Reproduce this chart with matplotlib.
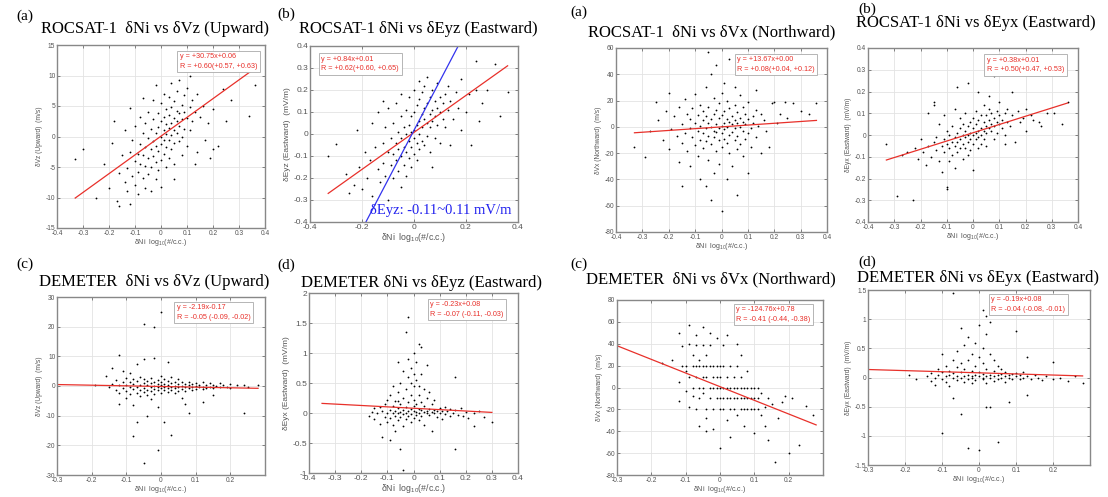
import numpy as np
import matplotlib
matplotlib.use('Agg')
import matplotlib.pyplot as plt
from matplotlib.ticker import FuncFormatter

plt.rcParams['font.family'] = ['Liberation Sans', 'DejaVu Sans']
plt.rcParams['mathtext.fontset'] = 'custom'
plt.rcParams['mathtext.rm'] = 'Liberation Sans'
plt.rcParams['mathtext.it'] = 'Liberation Sans:italic'

# ---- data ----
p1_pts = [(-0.33,-3.7),(-0.30,-2.0),(-0.25,-10.0),(-0.22,-4.5),(-0.20,-8.5),(-0.19,-1.0),(-0.18,2.5),(-0.17,-10.5),(-0.16,-11.4),(-0.16,-6.0),(-0.15,-3.0),(-0.14,-7.5),(-0.14,1.0),(-0.13,-5.2),(-0.13,-9.0),(-0.12,-2.5),(-0.12,4.6),(-0.11,-6.5),(-0.11,-0.5),(-0.10,-4.0),(-0.10,-8.0),(-0.10,1.8),(-0.09,-2.8),(-0.09,-5.8),(-0.09,-9.5),(-0.08,-1.2),(-0.08,-4.5),(-0.08,3.2),(-0.07,-6.8),(-0.07,-3.0),(-0.07,0.5),(-0.07,6.3),(-0.06,-1.8),(-0.06,-4.8),(-0.06,-8.4),(-0.06,2.2),(-0.05,-0.2),(-0.05,-3.5),(-0.05,-6.2),(-0.05,4.0),(-0.04,-2.0),(-0.04,1.2),(-0.04,-5.0),(-0.04,-9.0),(-0.03,-0.8),(-0.03,-3.2),(-0.03,2.8),(-0.03,6.0),(-0.02,-1.5),(-0.02,0.6),(-0.02,-4.2),(-0.02,-7.0),(-0.01,-2.4),(-0.01,1.5),(-0.01,3.8),(-0.01,-5.5),(0.00,0.0),(0.00,-1.2),(0.00,2.5),(0.00,-3.8),(0.00,5.5),(0.00,-8.2),(0.01,1.0),(0.01,-0.6),(0.01,3.2),(0.01,-2.8),(0.01,7.0),(0.02,0.4),(0.02,2.0),(0.02,-1.8),(0.02,4.5),(0.02,-5.0),(0.03,1.4),(0.03,3.6),(0.03,-0.5),(0.03,6.5),(0.03,-3.5),(0.04,2.2),(0.04,0.2),(0.04,4.8),(0.04,8.8),(0.04,-2.0),(0.05,1.0),(0.05,3.0),(0.05,5.8),(0.05,-1.0),(0.05,-4.5),(0.06,2.5),(0.06,4.2),(0.06,0.5),(0.06,7.5),(0.07,1.8),(0.07,3.8),(0.07,-0.8),(0.07,9.2),(0.08,2.8),(0.08,5.2),(0.08,0.0),(0.08,-3.0),(0.09,4.0),(0.09,1.2),(0.09,6.8),(0.10,3.0),(0.10,-1.5),(0.10,8.0),(0.11,4.8),(0.11,1.0),(0.12,2.5),(0.12,6.0),(0.13,-4.5),(0.13,4.0),(0.14,7.0),(0.14,-2.5),(0.15,3.2),(0.16,5.0),(0.17,-0.5),(0.18,2.2),(0.19,-3.5),(0.20,4.5),(0.20,-2.0),(0.22,-1.5),(0.24,7.8),(0.25,2.5),(0.27,6.0),(0.34,3.4),(0.36,8.4),(0.11,10.0),(-0.12,-11.0),(0.05,-7.0),(-0.02,8.5)]
p2_pts = [(-0.33,-0.10),(-0.30,-0.045),(-0.26,-0.18),(-0.25,-0.27),(-0.23,-0.23),(-0.22,0.02),(-0.21,-0.15),(-0.20,-0.25),(-0.19,-0.08),(-0.18,-0.20),(-0.17,-0.12),(-0.16,0.05),(-0.16,-0.28),(-0.15,-0.06),(-0.14,-0.16),(-0.14,0.10),(-0.13,-0.22),(-0.12,-0.04),(-0.12,-0.13),(-0.11,0.03),(-0.11,-0.19),(-0.10,-0.08),(-0.10,-0.30),(-0.10,0.12),(-0.09,-0.02),(-0.09,-0.14),(-0.08,-0.09),(-0.08,0.05),(-0.08,-0.20),(-0.07,-0.04),(-0.07,-0.12),(-0.07,0.14),(-0.06,-0.07),(-0.06,0.01),(-0.06,-0.17),(-0.05,-0.02),(-0.05,-0.10),(-0.05,0.08),(-0.05,-0.24),(-0.04,0.03),(-0.04,-0.06),(-0.04,-0.14),(-0.03,0.00),(-0.03,-0.08),(-0.03,0.11),(-0.03,-0.19),(-0.02,0.04),(-0.02,-0.03),(-0.02,-0.11),(-0.02,0.17),(-0.01,0.01),(-0.01,-0.06),(-0.01,0.08),(-0.01,-0.15),(0.00,0.02),(0.00,-0.02),(0.00,0.10),(0.00,-0.09),(0.00,0.20),(0.01,0.04),(0.01,-0.04),(0.01,0.13),(0.01,-0.12),(0.02,0.06),(0.02,0.00),(0.02,0.16),(0.02,-0.07),(0.02,0.24),(0.03,0.03),(0.03,0.09),(0.03,-0.03),(0.03,0.19),(0.04,0.07),(0.04,0.12),(0.04,-0.05),(0.04,0.22),(0.05,0.05),(0.05,0.14),(0.05,-0.01),(0.05,0.26),(0.06,0.09),(0.06,0.03),(0.06,0.17),(0.06,-0.08),(0.07,0.11),(0.07,0.06),(0.07,0.20),(0.08,0.08),(0.08,0.15),(0.08,-0.02),(0.09,0.12),(0.09,0.04),(0.09,0.23),(0.10,0.10),(0.10,0.17),(0.10,-0.04),(0.11,0.07),(0.11,0.14),(0.12,0.18),(0.12,0.03),(0.13,0.11),(0.13,0.22),(0.14,0.15),(0.14,-0.05),(0.15,0.07),(0.16,0.19),(0.17,0.12),(0.18,0.25),(0.18,0.02),(0.20,0.10),(0.21,0.18),(0.22,-0.05),(0.24,0.33),(0.24,0.20),(0.25,0.06),(0.26,0.14),(0.28,0.20),(0.31,0.32),(0.33,0.08),(0.36,0.19),(-0.12,0.15),(-0.05,0.18),(0.07,-0.15)]
p3_pts = [(-0.33,-15),(-0.29,-23),(-0.27,-3),(-0.25,19),(-0.24,5),(-0.22,-10),(-0.21,12),(-0.20,-17),(-0.20,26),(-0.19,-2),(-0.18,8),(-0.17,-7),(-0.16,15),(-0.16,-27),(-0.15,2),(-0.15,-12),(-0.14,21),(-0.14,-5),(-0.13,10),(-0.13,-18),(-0.12,-1),(-0.12,6),(-0.12,-30),(-0.11,14),(-0.11,-8),(-0.10,3),(-0.10,-14),(-0.10,25),(-0.09,-3),(-0.09,9),(-0.09,-22),(-0.08,1),(-0.08,-10),(-0.08,17),(-0.08,-40),(-0.07,5),(-0.07,-5),(-0.07,12),(-0.07,-16),(-0.06,-1),(-0.06,8),(-0.06,-11),(-0.06,30),(-0.06,-45),(-0.05,3),(-0.05,-7),(-0.05,15),(-0.05,57),(-0.05,-25),(-0.04,0),(-0.04,6),(-0.04,-13),(-0.04,40),(-0.04,-56),(-0.03,-3),(-0.03,10),(-0.03,-8),(-0.03,22),(-0.03,-35),(-0.02,2),(-0.02,-4),(-0.02,13),(-0.02,-18),(-0.02,47),(-0.01,-1),(-0.01,7),(-0.01,-10),(-0.01,18),(-0.01,-28),(0.00,1),(0.00,-5),(0.00,9),(0.00,-15),(0.00,26),(0.00,-64),(0.01,3),(0.01,-2),(0.01,12),(0.01,-9),(0.01,33),(0.02,0),(0.02,6),(0.02,-12),(0.02,20),(0.02,-40),(0.03,4),(0.03,-6),(0.03,14),(0.03,52),(0.03,-20),(0.04,2),(0.04,8),(0.04,-4),(0.04,-30),(0.05,-1),(0.05,5),(0.05,-10),(0.05,17),(0.05,30),(0.06,3),(0.06,-7),(0.06,11),(0.06,-17),(0.07,0),(0.07,7),(0.07,-13),(0.07,24),(0.08,-3),(0.08,4),(0.08,15),(0.08,-22),(0.09,2),(0.09,-9),(0.09,10),(0.10,-5),(0.10,6),(0.10,19),(0.11,-1),(0.11,-15),(0.12,8),(0.12,3),(0.13,-8),(0.13,13),(0.14,1),(0.15,-20),(0.15,10),(0.16,5),(0.17,-3),(0.18,-15),(0.19,18),(0.20,19),(0.21,3),(0.22,10),(0.24,19),(0.25,7),(0.27,18),(0.30,12),(0.33,10),(0.36,18),(0.10,-35),(-0.15,-45),(0.06,-52),(0.13,28)]
p4_pts = [(-0.33,-0.04),(-0.29,-0.28),(-0.27,-0.09),(-0.25,-0.08),(-0.23,-0.30),(-0.22,-0.06),(-0.21,-0.11),(-0.20,-0.02),(-0.19,-0.08),(-0.18,-0.14),(-0.17,-0.05),(-0.17,0.10),(-0.16,-0.10),(-0.15,-0.03),(-0.15,0.14),(-0.14,-0.07),(-0.14,-0.01),(-0.13,-0.12),(-0.13,0.05),(-0.12,-0.05),(-0.12,-0.17),(-0.11,-0.02),(-0.11,-0.08),(-0.11,0.09),(-0.10,-0.04),(-0.10,-0.24),(-0.10,-0.25),(-0.10,0.02),(-0.09,-0.06),(-0.09,0.00),(-0.09,-0.12),(-0.08,-0.03),(-0.08,0.04),(-0.08,-0.09),(-0.07,-0.01),(-0.07,-0.05),(-0.07,0.12),(-0.07,-0.15),(-0.06,0.01),(-0.06,-0.03),(-0.06,0.22),(-0.06,-0.08),(-0.05,-0.02),(-0.05,0.03),(-0.05,-0.06),(-0.05,0.08),(-0.04,0.00),(-0.04,-0.04),(-0.04,0.05),(-0.04,-0.11),(-0.03,-0.01),(-0.03,0.02),(-0.03,-0.06),(-0.03,0.10),(-0.02,0.00),(-0.02,0.04),(-0.02,-0.03),(-0.02,0.24),(-0.02,-0.09),(-0.01,0.01),(-0.01,-0.02),(-0.01,0.06),(-0.01,-0.07),(0.00,0.00),(0.00,0.03),(0.00,-0.04),(0.00,0.08),(0.00,-0.16),(0.01,0.01),(0.01,0.05),(0.01,-0.02),(0.01,0.11),(0.02,0.02),(0.02,-0.01),(0.02,0.07),(0.02,-0.06),(0.02,0.20),(0.03,0.03),(0.03,0.00),(0.03,0.09),(0.03,-0.04),(0.04,0.02),(0.04,0.06),(0.04,-0.02),(0.04,0.14),(0.05,0.04),(0.05,0.01),(0.05,0.09),(0.05,-0.05),(0.06,0.03),(0.06,0.07),(0.06,0.12),(0.06,0.18),(0.07,0.05),(0.07,0.02),(0.07,0.10),(0.08,0.04),(0.08,0.08),(0.08,0.27),(0.08,-0.02),(0.09,0.06),(0.09,0.11),(0.09,0.01),(0.10,0.05),(0.10,0.09),(0.10,0.15),(0.11,0.03),(0.11,0.07),(0.12,0.10),(0.12,0.00),(0.13,0.06),(0.13,0.12),(0.14,0.04),(0.15,0.09),(0.16,-0.03),(0.17,0.11),(0.18,0.06),(0.19,0.08),(0.20,0.12),(0.20,0.02),(0.22,0.09),(0.23,0.07),(0.25,0.06),(0.26,0.04),(0.28,0.10),(0.31,0.10),(0.34,0.05),(0.36,0.15),(-0.15,0.15),(0.15,0.20),(0.12,-0.04)]
p5_pts = [(-0.19,0.5),(-0.16,3.5),(-0.15,-0.5),(-0.14,0.8),(-0.14,6),(-0.13,-1.2),(-0.13,2.0),(-0.12,10.5),(-0.12,0.2),(-0.12,-2.5),(-0.11,1.5),(-0.11,-0.8),(-0.11,5.0),(-0.10,0.5),(-0.10,-1.8),(-0.10,2.8),(-0.10,-4.0),(-0.09,-0.3),(-0.09,1.2),(-0.09,-2.6),(-0.09,4.5),(-0.08,0.8),(-0.08,-1.0),(-0.08,2.5),(-0.08,-6.5),(-0.08,-17),(-0.07,-0.2),(-0.07,1.8),(-0.07,-2.2),(-0.07,-12),(-0.07,7.5),(-0.06,0.4),(-0.06,-1.4),(-0.06,3.0),(-0.06,-3.5),(-0.05,-0.6),(-0.05,1.0),(-0.05,2.2),(-0.05,-2.0),(-0.05,21),(-0.05,-26),(-0.05,9),(-0.04,0.2),(-0.04,-1.2),(-0.04,1.6),(-0.04,-3.0),(-0.04,-10),(-0.03,-0.4),(-0.03,0.9),(-0.03,2.6),(-0.03,-1.8),(-0.03,-4.5),(-0.02,0.1),(-0.02,-0.9),(-0.02,1.4),(-0.02,20),(-0.02,-2.8),(-0.02,9.5),(-0.01,-0.3),(-0.01,0.7),(-0.01,2.0),(-0.01,-1.5),(-0.01,-21.5),(-0.01,-7),(0.00,0.3),(0.00,-0.8),(0.00,1.2),(0.00,25),(0.00,-2.2),(0.00,3.5),(0.01,-0.2),(0.01,0.8),(0.01,-1.3),(0.01,2.4),(0.01,-12),(0.02,0.2),(0.02,-0.6),(0.02,1.6),(0.02,-2.0),(0.02,8),(0.03,-0.3),(0.03,0.9),(0.03,-1.5),(0.03,-16.5),(0.03,3.0),(0.04,0.1),(0.04,-0.8),(0.04,1.5),(0.04,-2.5),(0.05,-0.4),(0.05,0.7),(0.05,-1.6),(0.05,2.2),(0.06,0.0),(0.06,-1.0),(0.06,1.2),(0.06,-4),(0.07,-0.4),(0.07,0.6),(0.07,-1.8),(0.08,0.2),(0.08,-0.8),(0.08,1.5),(0.08,-9),(0.09,-0.3),(0.09,0.8),(0.09,-1.4),(0.10,0.0),(0.10,-0.9),(0.10,1.0),(0.11,-0.4),(0.11,0.5),(0.12,-0.2),(0.12,-1.0),(0.12,1.2),(0.13,0.3),(0.13,-0.6),(0.14,-0.3),(0.14,1.0),(0.15,-0.8),(0.15,0.4),(0.16,0.0),(0.17,-0.5),(0.17,0.9),(0.18,0.2),(0.19,-0.4),(0.20,0.8),(0.20,-0.6),(0.22,0.2),(0.24,-9),(0.24,0.5),(0.25,-0.3),(0.28,0.5),(0.12,-5.5),(-0.12,-6),(0.15,-3),(0.07,-6)]
p6_pts = [(-0.17,-0.05),(-0.16,0.02),(-0.15,-0.10),(-0.15,0.08),(-0.14,0.00),(-0.13,-0.18),(-0.13,0.10),(-0.12,-0.40),(-0.12,0.03),(-0.11,-0.07),(-0.11,0.15),(-0.10,0.00),(-0.10,-0.15),(-0.10,0.22),(-0.09,0.05),(-0.09,-0.08),(-0.09,0.30),(-0.08,0.00),(-0.08,0.12),(-0.08,-0.20),(-0.08,0.45),(-0.07,0.04),(-0.07,-0.05),(-0.07,0.20),(-0.07,-0.30),(-0.06,0.08),(-0.06,0.00),(-0.06,0.35),(-0.06,-0.12),(-0.06,0.85),(-0.05,0.02),(-0.05,0.15),(-0.05,-0.06),(-0.05,0.50),(-0.05,-0.60),(-0.04,0.05),(-0.04,0.25),(-0.04,-0.02),(-0.04,0.70),(-0.04,-0.95),(-0.04,-0.22),(-0.03,0.10),(-0.03,0.00),(-0.03,0.40),(-0.03,1.35),(-0.03,-0.10),(-0.02,0.03),(-0.02,0.18),(-0.02,0.60),(-0.02,1.60),(-0.02,-0.05),(-0.02,0.90),(-0.01,0.07),(-0.01,-0.02),(-0.01,0.30),(-0.01,0.75),(-0.01,-0.15),(0.00,0.04),(0.00,0.12),(0.00,0.45),(0.00,1.00),(0.00,-0.08),(0.00,0.22),(0.01,0.02),(0.01,0.15),(0.01,0.55),(0.01,-0.03),(0.01,0.85),(0.02,0.06),(0.02,0.00),(0.02,0.30),(0.02,1.15),(0.02,-0.12),(0.03,0.05),(0.03,0.18),(0.03,0.65),(0.03,1.10),(0.03,-0.05),(0.04,0.02),(0.04,0.12),(0.04,0.40),(0.04,-0.20),(0.05,0.04),(0.05,0.25),(0.05,0.00),(0.05,0.80),(0.06,0.07),(0.06,-0.04),(0.06,0.35),(0.07,0.02),(0.07,0.15),(0.07,-0.30),(0.08,0.05),(0.08,0.00),(0.08,0.22),(0.09,0.03),(0.09,-0.06),(0.10,0.08),(0.10,0.00),(0.11,0.04),(0.11,-0.10),(0.12,0.10),(0.12,-0.02),(0.13,0.03),(0.14,-0.05),(0.14,0.06),(0.15,0.00),(0.16,0.60),(0.16,-0.60),(0.16,0.05),(0.17,-0.03),(0.18,0.08),(0.19,-0.05),(0.20,0.02),(0.21,-0.08),(0.23,0.00),(0.23,-0.22),(0.25,0.03),(0.27,-0.06),(0.30,-0.15),(-0.09,-0.45),(-0.01,0.50),(0.02,0.45),(-0.06,0.20),(0.00,0.65)]
p7_pts = [(-0.17,22),(-0.14,25),(-0.12,5),(-0.12,-12),(-0.11,38),(-0.11,20),(-0.10,-3),(-0.10,20),(-0.10,15),(-0.09,57),(-0.09,10),(-0.09,-18),(-0.09,40),(-0.08,20),(-0.08,0),(-0.08,30),(-0.08,-8),(-0.07,48),(-0.07,20),(-0.07,10),(-0.07,-20),(-0.07,39),(-0.06,20),(-0.06,0),(-0.06,-10),(-0.06,25),(-0.06,-35),(-0.05,10),(-0.05,39),(-0.05,20),(-0.05,0),(-0.05,-5),(-0.05,55),(-0.04,20),(-0.04,10),(-0.04,-20),(-0.04,30),(-0.04,-28),(-0.03,0),(-0.03,20),(-0.03,-10),(-0.03,39),(-0.03,50),(-0.02,10),(-0.02,0),(-0.02,-20),(-0.02,20),(-0.02,-38),(-0.01,0),(-0.01,20),(-0.01,-10),(-0.01,10),(-0.01,45),(0.00,0),(0.00,-20),(0.00,10),(0.00,20),(0.00,-10),(0.00,-55),(0.01,0),(0.01,-10),(0.01,20),(0.01,-20),(0.01,39),(0.02,0),(0.02,10),(0.02,-10),(0.02,-30),(0.02,48),(0.03,0),(0.03,-20),(0.03,20),(0.03,-10),(0.03,-45),(0.04,0),(0.04,-10),(0.04,10),(0.04,-20),(0.05,0),(0.05,-10),(0.05,20),(0.05,-25),(0.06,0),(0.06,-20),(0.06,-10),(0.06,10),(0.07,0),(0.07,-10),(0.07,-20),(0.07,-35),(0.08,-10),(0.08,0),(0.08,-20),(0.09,-10),(0.09,-20),(0.09,0),(0.10,-10),(0.10,0),(0.10,-20),(0.10,-42),(0.11,-10),(0.11,0),(0.11,-20),(0.12,-5),(0.12,-25),(0.13,-35),(0.13,-18),(0.14,-10),(0.14,-48),(0.15,-15),(0.16,-68),(0.17,-28),(0.18,-13),(0.19,-8),(0.20,-60),(0.21,-10),(0.23,-53),(0.25,-17),(0.27,-25),(-0.12,50),(0.05,40),(-0.04,-40),(0.06,30),(0.08,15)]
p8_pts = [(-0.19,0.05),(-0.17,-0.02),(-0.14,0.03),(-0.13,-0.06),(-0.13,0.08),(-0.12,0.00),(-0.12,-0.12),(-0.11,0.05),(-0.11,0.15),(-0.10,-0.03),(-0.10,0.10),(-0.10,-0.95),(-0.09,0.02),(-0.09,-0.08),(-0.09,0.20),(-0.08,0.05),(-0.08,-0.15),(-0.08,0.12),(-0.07,0.00),(-0.07,0.30),(-0.07,1.45),(-0.07,-0.35),(-0.07,0.08),(-0.06,0.03),(-0.06,-0.05),(-0.06,0.18),(-0.06,0.45),(-0.05,0.00),(-0.05,0.10),(-0.05,-0.62),(-0.05,0.85),(-0.05,0.25),(-0.04,0.02),(-0.04,-0.08),(-0.04,0.15),(-0.04,0.55),(-0.03,0.05),(-0.03,-0.02),(-0.03,0.30),(-0.03,-1.20),(-0.03,0.70),(-0.02,0.00),(-0.02,0.12),(-0.02,0.40),(-0.02,-0.10),(-0.01,0.04),(-0.01,0.20),(-0.01,0.60),(-0.01,-0.05),(0.00,0.02),(0.00,0.10),(0.00,0.35),(0.00,-1.25),(0.00,0.90),(0.01,0.06),(0.01,-0.03),(0.01,0.25),(0.01,1.15),(0.01,0.50),(0.02,0.03),(0.02,0.15),(0.02,0.75),(0.02,-0.10),(0.02,1.05),(0.03,0.05),(0.03,0.00),(0.03,0.40),(0.03,0.95),(0.03,-0.50),(0.04,0.02),(0.04,0.12),(0.04,-0.06),(0.04,0.30),(0.05,0.04),(0.05,-1.10),(0.05,0.20),(0.05,-0.02),(0.06,0.06),(0.06,0.00),(0.06,0.15),(0.07,0.02),(0.07,-0.08),(0.07,0.10),(0.08,0.04),(0.08,0.00),(0.08,-0.42),(0.09,0.06),(0.09,-0.03),(0.10,0.02),(0.10,0.80),(0.10,0.08),(0.11,-0.02),(0.11,0.05),(0.12,0.00),(0.12,0.10),(0.13,0.35),(0.13,-0.30),(0.13,0.03),(0.14,-0.02),(0.15,0.04),(0.16,0.00),(0.17,-0.04),(0.18,0.02),(0.20,0.27),(0.20,-0.03),(0.22,0.00),(0.24,-0.06),(0.26,0.02),(0.28,-0.10),(-0.10,0.40),(0.02,-0.50),(-0.02,0.02),(0.01,0.00)]

# regression line end points
fit_x = [[-0.33, 0.36], [-0.33, 0.36], [-0.33, 0.36], [-0.33, 0.36],
         [-0.30, 0.28], [-0.35, 0.30], [-0.30, 0.28], [-0.30, 0.28]]
fit_y = [[-10.09, 11.13], [-0.27, 0.31], [-4.5, 4.9], [-0.115, 0.147],
         [0.49, -0.78], [0.16, 0.01], [38.2, -34.2], [0.137, 0.027]]
blue_x = [-0.185, 0.17]
blue_y = [-0.4, 0.4]

titles = ['ROCSAT-1  δNi vs δVz (Upward)', 'ROCSAT-1 δNi vs δEyz (Eastward)',
          'ROCSAT-1  δNi vs δVx (Northward)', 'ROCSAT-1 δNi vs δEyx (Eastward)',
          'DEMETER  δNi vs δVz (Upward)', 'DEMETER δNi vs δEyz (Eastward)',
          'DEMETER  δNi vs δVx (Northward)', 'DEMETER δNi vs δEyx (Eastward)']
letters = ['(a)', '(b)', '(a)', '(b)', '(c)', '(d)', '(c)', '(d)']
ylabels = ['δVz (Upward)  (m/s)', 'δEyz (Eastward)  (mV/m)',
           'δVx (Northward)  (m/s)', 'δEyx (Eastward)  (mV/m)',
           'δVz (Upward)  (m/s)', 'δEyx (Eastward)  (mV/m)',
           'δVx (Northward)  (m/s)', 'δEyx (Eastward)  (mV/m)']
fit_text = ['y = +30.75x+0.06\nR = +0.60(+0.57, +0.63)',
            'y = +0.84x+0.01\nR = +0.62(+0.60, +0.65)',
            'y = +13.67x+0.00\nR = +0.08(+0.04, +0.12)',
            'y = +0.38x+0.01\nR = +0.50(+0.47, +0.53)',
            'y = -2.19x-0.17\nR = -0.05 (-0.09, -0.02)',
            'y = -0.23x+0.08\nR = -0.07 (-0.11, -0.03)',
            'y = -124.76x+0.78\nR = -0.41 (-0.44, -0.38)',
            'y = -0.19x+0.08\nR = -0.04 (-0.08, -0.01)']
xlims = [(-0.4, 0.4)] * 4 + [(-0.3, 0.3), (-0.4, 0.4), (-0.3, 0.3), (-0.3, 0.3)]
xticks = [np.arange(-4, 5) / 10, np.arange(-2, 3) / 5, np.arange(-4, 5) / 10, np.arange(-4, 5) / 10,
          np.arange(-3, 3) / 10, np.arange(-4, 5) / 10, np.arange(-3, 3) / 10, np.arange(-3, 3) / 10]
ylims = [(-15, 15), (-0.4, 0.4), (-80, 60), (-0.4, 0.4), (-30, 30), (-1, 2), (-80, 80), (-1.5, 1.5)]
yticks = [np.arange(-15, 16, 5), np.arange(-4, 5) / 10, np.arange(-80, 61, 20), np.arange(-4, 5) / 10,
          np.arange(-30, 31, 10), np.arange(-2, 5) / 2, np.arange(-80, 81, 20), np.arange(-3, 4) / 2]
all_pts = [p1_pts, p2_pts, p3_pts, p4_pts, p5_pts, p6_pts, p7_pts, p8_pts]

# ---- layout (pixels: left, top, right, bottom) ----
W, H = 1108, 497
boxes = [(57, 45, 265, 228), (310, 46, 518, 222), (616, 48, 827, 232), (868, 48, 1078, 222),
         (57, 297, 265, 475), (309, 293, 518, 473), (617, 300, 823, 475), (868, 290, 1090, 465)]
title_xy = [(155, 29), (418, 29), (712, 32), (976, 23), (154, 282), (422, 283), (711, 279), (978, 278)]
letter_xy = [(16, 16), (277, 14), (570, 12), (858, 9), (16, 264), (277, 265), (570, 264), (858, 262)]
text_pos = [(0.59, 0.955), (0.055, 0.945), (0.575, 0.955), (0.565, 0.95),
            (0.575, 0.96), (0.58, 0.955), (0.58, 0.965), (0.555, 0.965)]
big = [False, True, False, False, False, True, False, False]

fig = plt.figure(figsize=(W / 100, H / 100), dpi=100)

fmt = FuncFormatter(lambda v, p: '0' if abs(v) < 1e-9 else f'{v:g}')

for i in range(8):
    l, t, r, b = boxes[i]
    ax = fig.add_axes([l / W, 1 - b / H, (r - l) / W, (b - t) / H])
    pts = np.array(all_pts[i])
    ax.plot(pts[:, 0], pts[:, 1], 'k.', ms=2.6, mew=0)
    ax.plot(fit_x[i], fit_y[i], color='#e8302a', lw=0.9)
    if i == 1:
        ax.plot(blue_x, blue_y, color='#3333ee', lw=0.9)
        ax.text(0.97, 0.03, 'δEyz: -0.11~0.11 mV/m', transform=ax.transAxes,
                ha='right', va='bottom', color='#2222ee', fontsize=10.5,
                family=['Liberation Serif', 'DejaVu Serif'])
    ax.set_xlim(*xlims[i])
    ax.set_ylim(*ylims[i])
    ax.set_xticks(xticks[i])
    ax.set_yticks(yticks[i])
    ax.xaxis.set_major_formatter(fmt)
    ax.yaxis.set_major_formatter(fmt)
    fs = 6 if big[i] else 4.8
    ax.tick_params(direction='in', length=2, width=0.5, labelsize=fs,
                   colors='#555555', pad=1.2, top=True, right=True)
    ax.grid(True, color='#e3e3e3', lw=0.6)
    ax.set_axisbelow(True)
    for s in ax.spines.values():
        s.set_color('#888888')
        s.set_linewidth(1.0)
    ax.set_ylabel(ylabels[i], fontsize=fs, color='#555555', labelpad=2)
    ax.set_xlabel('δNi  log$_{10}$(#/c.c.)', fontsize=fs + 0.3, color='#555555', labelpad=0.5)
    ax.text(text_pos[i][0], text_pos[i][1], fit_text[i], transform=ax.transAxes,
            ha='left', va='top', color='#e8302a', fontsize=5.2, linespacing=1.5,
            bbox=dict(facecolor='white', edgecolor='#aaaaaa', lw=0.6, boxstyle='square,pad=0.35'))

    fig.text(title_xy[i][0] / W, 1 - title_xy[i][1] / H, titles[i], ha='center', va='center',
             fontsize=12, family=['Liberation Serif', 'DejaVu Serif'])
    fig.text(letter_xy[i][0] / W, 1 - letter_xy[i][1] / H, letters[i], ha='left', va='center',
             fontsize=11, family=['Liberation Serif', 'DejaVu Serif'])

fig.savefig('out.png', dpi=100)
